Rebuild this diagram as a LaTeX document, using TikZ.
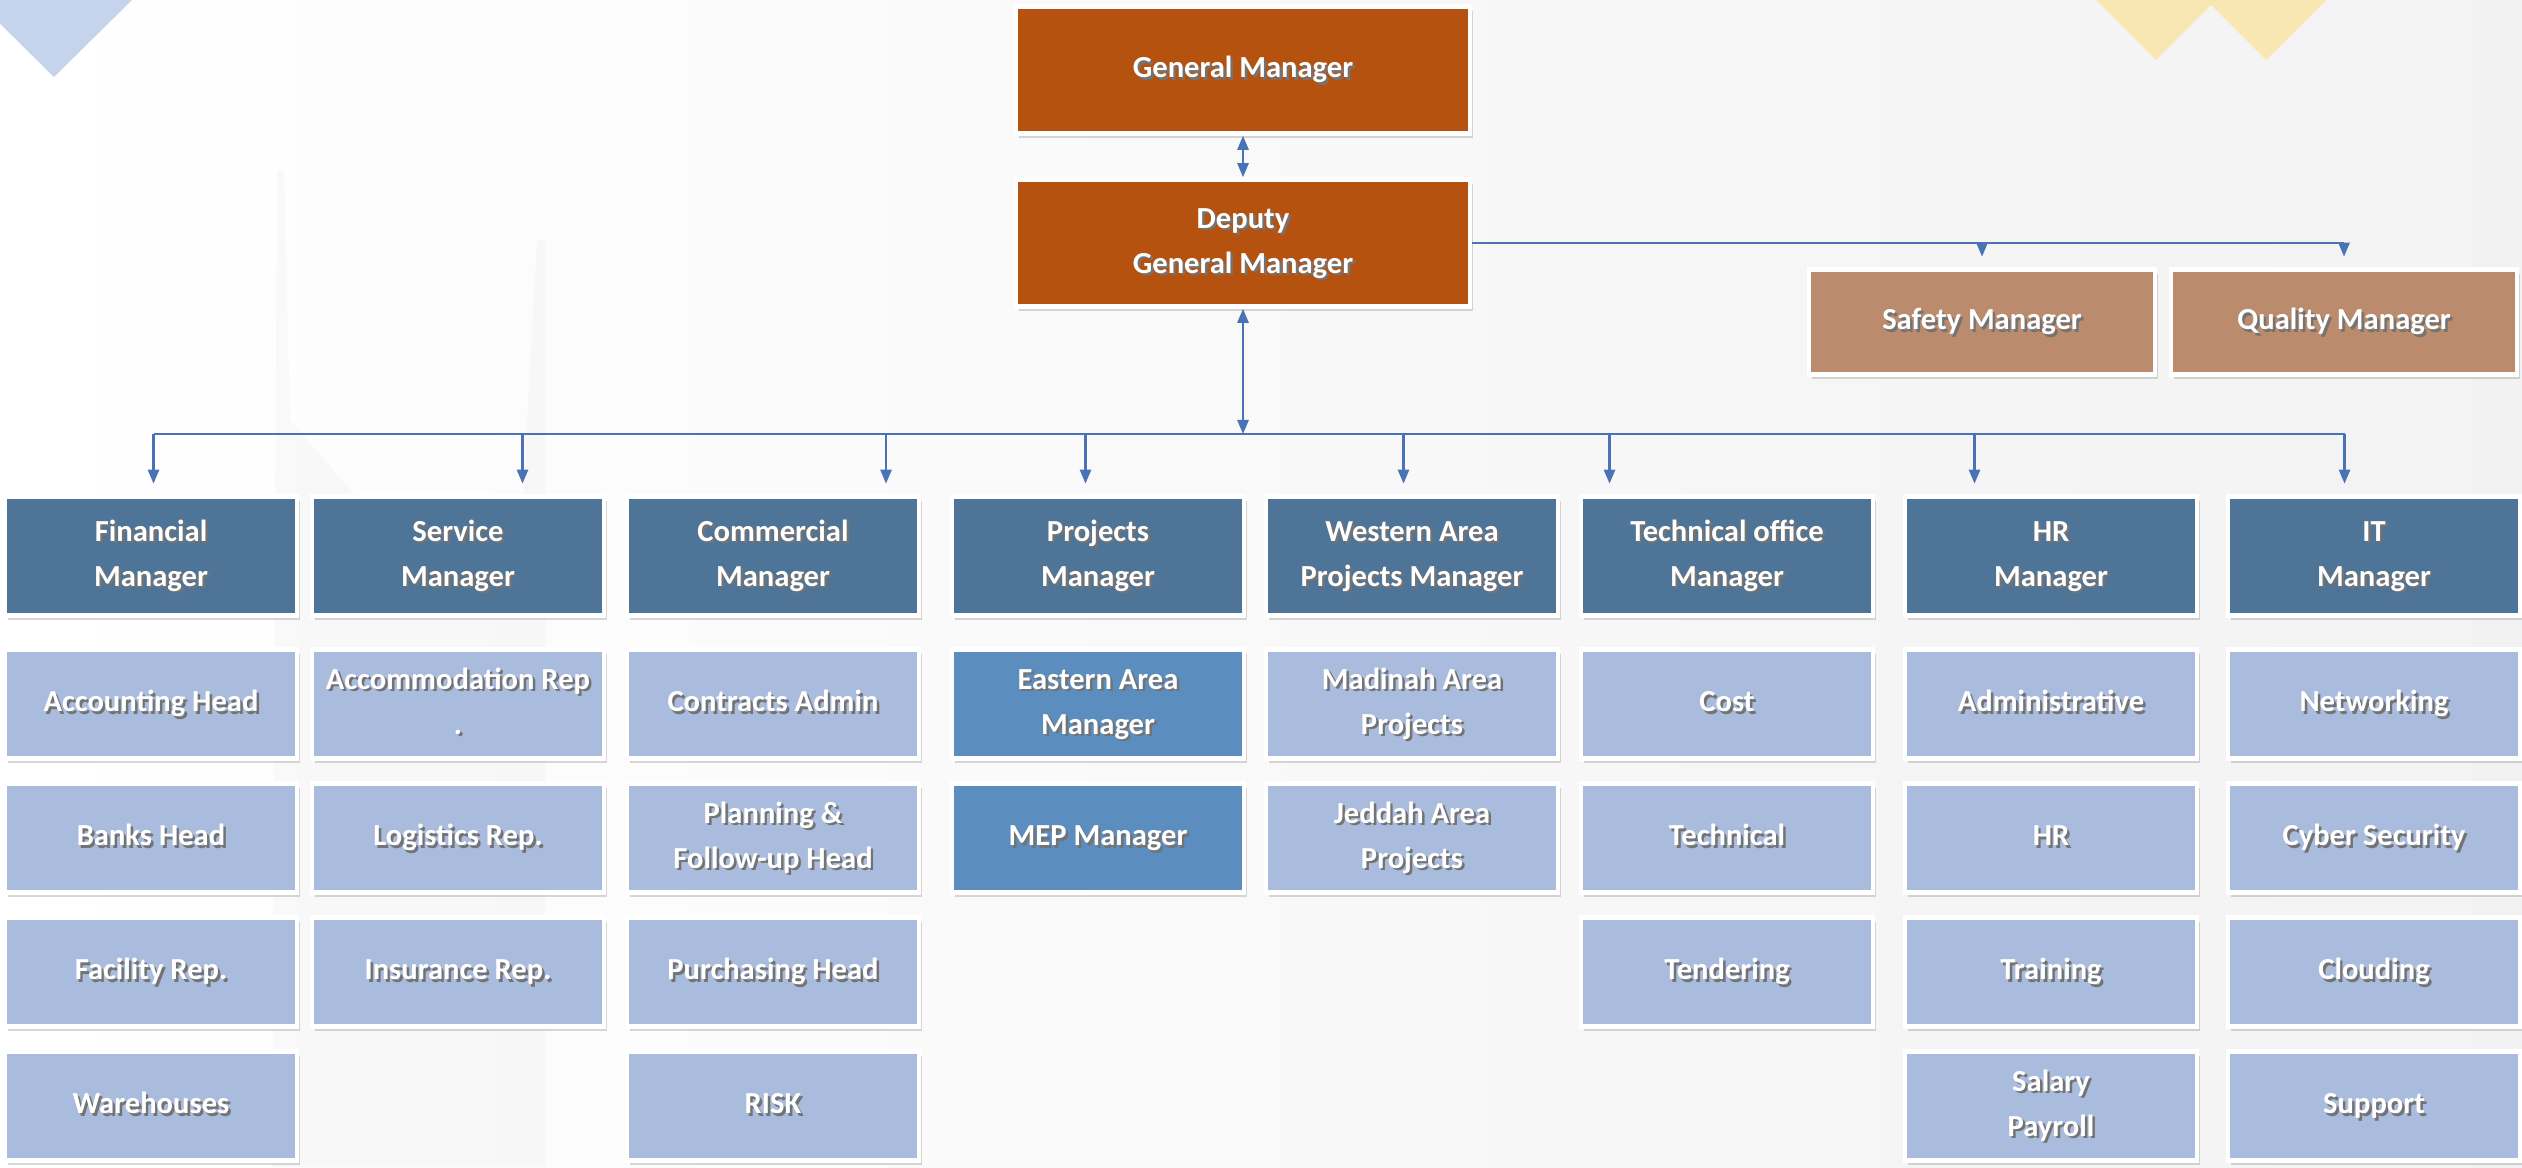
\documentclass[tikz,border=0pt]{standalone}
\usepackage{fontspec}
\setmainfont{Carlito}
\usetikzlibrary{arrows.meta,shadows}

\definecolor{gmorange}{HTML}{B5520F}
\definecolor{tanbox}{HTML}{BA8B6C}
\definecolor{mgrblue}{HTML}{4E7497}
\definecolor{midblue}{HTML}{5B8EBF}
\definecolor{subblue}{HTML}{A9BCDD}
\definecolor{linkblue}{HTML}{4A73B5}
\definecolor{triblue}{HTML}{C5D4EC}
\definecolor{triyellow}{HTML}{F9E5A8}

% white text with a soft dark shadow
\newcommand{\shtab}[1]{\begin{tabular}{@{}c@{}}#1\end{tabular}}
\newcommand{\sh}[1]{\makebox[0pt]{\hspace{1.4pt}\raisebox{-0.7pt}{\textcolor{black!55}{\shtab{#1}}}}\makebox[0pt]{\shtab{#1}}}

\tikzset{
  box/.style={rectangle, draw=white, line width=1.3pt, inner sep=0pt, text=white, align=center,
    font=\bfseries\fontsize{8.7}{12.8}\selectfont,
    drop shadow={shadow xshift=0.8pt, shadow yshift=-1.2pt, opacity=0.3}},
  topbox/.style={box, fill=gmorange, minimum width=4.54cm, minimum height=1.27cm},
  sidebox/.style={box, fill=tanbox, minimum width=3.46cm, minimum height=1.05cm},
  mgrbox/.style={box, fill=mgrblue, minimum width=2.92cm, minimum height=1.19cm},
  subbox/.style={box, fill=subblue, minimum width=2.92cm, minimum height=1.09cm},
  areabox/.style={subbox, fill=midblue},
  link/.style={draw=linkblue, line width=0.6pt},
  arr/.style={link, -{Triangle[width=3.2pt,length=4pt]}, shorten >=3pt},
  dblarr/.style={link, {Triangle[width=3.2pt,length=4pt]}-{Triangle[width=3.2pt,length=4pt]}},
}

\begin{document}
\begin{tikzpicture}[x=0.01cm, y=-0.01cm]
\def \rowa{556};
\def \rowb{704};
\def \dr{134};
\useasboundingbox (0,0) rectangle (2522,1167);
\shade[left color=white, right color=black!5] (0,0) rectangle (2522,1167);
% faint tower behind the chart
\fill[black, opacity=0.018] (277,170) -- (284,170) -- (290,420) -- (446,600) -- (523,497)
    -- (537,240) -- (545,240) -- (545,1167) -- (272,1167) -- cycle;
% corner marks
\fill[triblue] (-24,0) -- (132,0) -- (54,77) -- cycle;
\fill[triyellow, opacity=0.85] (2096,0) -- (2216,0) -- (2156,60) -- cycle;
\fill[triyellow, opacity=0.85] (2206,0) -- (2326,0) -- (2266,60) -- cycle;

% top of the chart
\node[topbox] (gm) at (1243,70) {\sh{General Manager}};
\node[topbox] (dep) at (1243,243) {\sh{Deputy\\General Manager}};
\node[sidebox] (saf) at (1982,322) {\sh{Safety Manager}};
\node[sidebox] (qua) at (2344,322) {\sh{Quality Manager}};

% managers
\foreach \n/\x/\t in {fin/151/{Financial\\Manager}, ser/458/{Service\\Manager},
    com/773/{Commercial\\Manager}, pro/1098/{Projects\\Manager},
    wes/1412/{Western Area\\Projects Manager}, tec/1727/{Technical office\\Manager},
    hrm/2051/{HR\\Manager}, itm/2374/{IT\\Manager}} {
    \node[mgrbox] (\n) at (\x,\rowa) {\sh{\t}};
}

% links
\coordinate (bus) at (1243,434);
\foreach \n/\dx in {fin/2.5, ser/64.5, com/113, pro/-12.5, wes/-8.5, tec/-117.5, hrm/-76.5, itm/-29.5} {
    \coordinate (a\n) at ([xshift=\dx*0.01cm]\n.north |- bus);
    \draw[arr] (a\n) -- (a\n |- \n.north);
}
\draw[link] (afin) -- (aitm);
\draw[dblarr] (gm) -- (dep);
\draw[dblarr] (dep.south) -- (bus);
\draw[link] (dep.east) -- (qua.north |- dep.east);
\draw[arr] (saf.north |- dep.east) -- (saf.north);
\draw[arr] (qua.north |- dep.east) -- (qua.north);

% sections
\foreach \t [count=\i] in {Accounting Head, Banks Head, Facility Rep., Warehouses}
    \node[subbox] (fin\i) at (151,\rowb-\dr+\dr*\i) {\sh{\t}};
\foreach \t [count=\i] in {{Accommodation Rep\\.}, Logistics Rep., Insurance Rep.}
    \node[subbox] (ser\i) at (458,\rowb-\dr+\dr*\i) {\sh{\t}};
\foreach \t [count=\i] in {Contracts Admin, {Planning \&\\Follow-up Head}, Purchasing Head, RISK}
    \node[subbox] (com\i) at (773,\rowb-\dr+\dr*\i) {\sh{\t}};
\foreach \t [count=\i] in {{Eastern Area\\Manager}, MEP Manager}
    \node[areabox] (pro\i) at (1098,\rowb-\dr+\dr*\i) {\sh{\t}};
\foreach \t [count=\i] in {{Madinah Area\\Projects}, {Jeddah Area\\Projects}}
    \node[subbox] (wes\i) at (1412,\rowb-\dr+\dr*\i) {\sh{\t}};
\foreach \t [count=\i] in {Cost, Technical, Tendering}
    \node[subbox] (tec\i) at (1727,\rowb-\dr+\dr*\i) {\sh{\t}};
\foreach \t [count=\i] in {Administrative, HR, Training, {Salary\\Payroll}}
    \node[subbox] (hrm\i) at (2051,\rowb-\dr+\dr*\i) {\sh{\t}};
\foreach \t [count=\i] in {Networking, Cyber Security, Clouding, Support}
    \node[subbox] (itm\i) at (2374,\rowb-\dr+\dr*\i) {\sh{\t}};
\end{tikzpicture}
\end{document}
